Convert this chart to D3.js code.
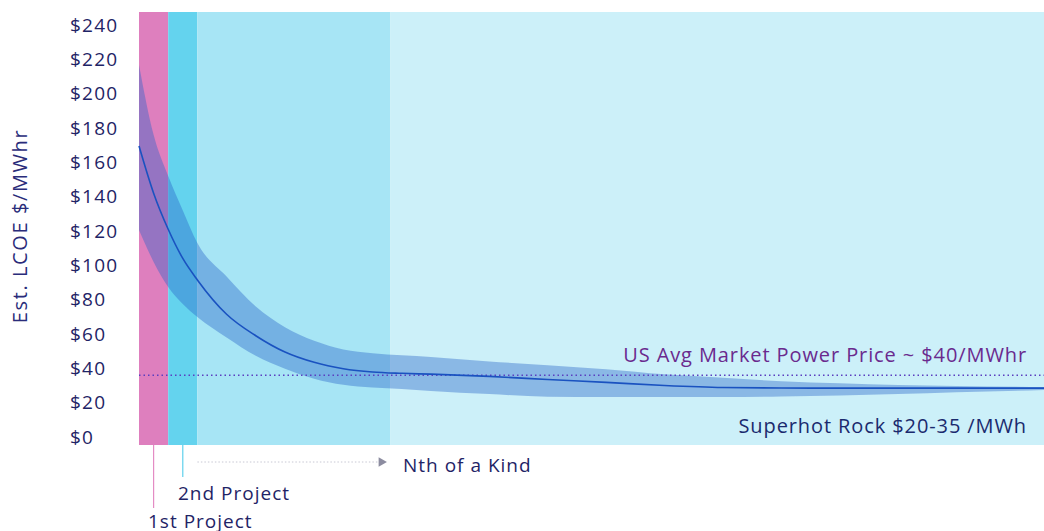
<!DOCTYPE html>
<html>
<head>
<meta charset="utf-8">
<script src="https://cdn.jsdelivr.net/npm/d3@7"></script>
<style>
  body { margin: 0; background: #fff; }
  svg text { font-family: "Open Sans", Lato, sans-serif; }
</style>
</head>
<body>
<div id="chart"></div>
<script>
// Project number along the x axis (no ticks shown)
const projects = [0, 0.5, 1, 1.5, 2, 3, 4, 5, 6, 7, 8, 9, 10, 12, 14, 16, 18, 20, 22, 24, 26, 28, 31];
// Estimated LCOE, $/MWhr
const lcoeMid   = [169.5, 142, 121, 104, 91.5, 71.5, 59, 49.5, 43.5, 39.8, 37.9, 37.1, 36.6, 35.3, 33.5, 31.8, 30.0, 28.8, 28.5, 28.5, 28.5, 28.5, 28.5];
const lcoeHigh  = [216.7, 176, 152, 132, 113, 93.5, 76, 64, 56, 51, 48.8, 47.6, 46.6, 44, 41.8, 39.5, 36.5, 34.5, 32.5, 31.3, 30.3, 29.7, 29.1];
const lcoeLow   = [120.6, 102, 87.4, 77.5, 69.9, 58, 47.3, 39.8, 34, 30.4, 28.8, 27.9, 26.8, 25, 23.5, 23.3, 23.3, 23.3, 23.6, 24.2, 25, 26, 27.4];

// Stage bands (project number ranges)
const stageEdges = [0, 1, 2, 8.6, 31];
const stageColors = ["#de7fbe", "#64d3ee", "#a7e5f5", "#ccf0f9"];

const yTicks = [0, 20, 40, 60, 80, 100, 120, 140, 160, 180, 200, 220, 240];
const marketPrice = 36;

const W = 1044, H = 531;
const plotTop = 12, plotBottom = 445;

const svg = d3.select("#chart").append("svg")
    .attr("width", W)
    .attr("height", H);

const x = d3.scaleLinear().domain([0, 31]).range([139, 1044]);
const y = d3.scaleLinear().domain([0, 240]).range([437, 25]);

// background stage bands
svg.append("g")
   .selectAll("rect")
   .data(stageColors)
   .enter()
   .append("rect")
   .attr("x", (d, i) => x(stageEdges[i]))
   .attr("width", (d, i) => x(stageEdges[i + 1]) - x(stageEdges[i]))
   .attr("y", plotTop)
   .attr("height", plotBottom - plotTop)
   .attr("fill", d => d);

const data = projects.map((p, i) => ({p: p, mid: lcoeMid[i], hi: lcoeHigh[i], lo: lcoeLow[i]}));

// uncertainty band
svg.append("path")
   .datum(data)
   .attr("fill", "rgba(40,100,200,0.4)")
   .attr("d", d3.area()
       .x(d => x(d.p))
       .y0(d => y(d.lo))
       .y1(d => y(d.hi))
       .curve(d3.curveMonotoneX));

// market price dotted line
svg.append("line")
   .attr("x1", x(0))
   .attr("x2", x(31))
   .attr("y1", y(marketPrice))
   .attr("y2", y(marketPrice))
   .attr("stroke", "#5a3fc0")
   .attr("stroke-width", 1.5)
   .attr("stroke-dasharray", "1.5,3");

// central estimate
svg.append("path")
   .datum(data)
   .attr("fill", "none")
   .attr("stroke", "#1a52c0")
   .attr("stroke-width", 1.6)
   .attr("d", d3.line()
       .x(d => x(d.p))
       .y(d => y(d.mid))
       .curve(d3.curveMonotoneX));

// Y axis labels
const yAxis = svg.append("g")
   .attr("transform", "translate(70,0)")
   .call(d3.axisLeft(y).tickValues(yTicks).tickSize(0).tickFormat(d => "$" + d));
yAxis.select(".domain").remove();
yAxis.selectAll("text")
   .attr("x", 0)
   .attr("text-anchor", "start")
   .attr("fill", "#1f2466")
   .style("font-size", "19px")
   .style("letter-spacing", "1.2px");

// Y axis title
svg.append("text")
   .attr("transform", "translate(27,226) rotate(-90)")
   .attr("text-anchor", "middle")
   .attr("fill", "#2a2c7a")
   .style("font-size", "20px")
   .style("letter-spacing", "1.6px")
   .text("Est. LCOE $/MWhr");

// right-side annotations
svg.append("text")
   .attr("x", 1027)
   .attr("y", 362)
   .attr("text-anchor", "end")
   .attr("fill", "#6a2a8e")
   .style("font-size", "20px")
   .style("letter-spacing", "0.9px")
   .text("US Avg Market Power Price ~ $40/MWhr");

svg.append("text")
   .attr("x", 1027)
   .attr("y", 433)
   .attr("text-anchor", "end")
   .attr("fill", "#1a2a6e")
   .style("font-size", "20px")
   .style("letter-spacing", "0.9px")
   .text("Superhot Rock $20-35 /MWh");

// bottom stage labels
svg.append("line")
   .attr("x1", x(0.5)).attr("x2", x(0.5))
   .attr("y1", plotBottom).attr("y2", 508)
   .attr("stroke", "#e48cc4").attr("stroke-width", 1.2);
svg.append("line")
   .attr("x1", x(1.5)).attr("x2", x(1.5))
   .attr("y1", plotBottom).attr("y2", 477)
   .attr("stroke", "#5fd0ec").attr("stroke-width", 1.2);

svg.append("line")
   .attr("x1", x(2)).attr("x2", x(8.2))
   .attr("y1", 462).attr("y2", 462)
   .attr("stroke", "#c8c8d4").attr("stroke-width", 1)
   .attr("stroke-dasharray", "1.5,2");
svg.append("path")
   .attr("d", d3.symbol().type(d3.symbolTriangle).size(40)())
   .attr("transform", `translate(${x(8.2) + 3},462) rotate(90)`)
   .attr("fill", "#8c8ca0");

const labelColor = "#1f2466";
svg.append("text").attr("x", 148).attr("y", 528).attr("fill", labelColor)
   .style("font-size", "19px").style("letter-spacing", "1px").text("1st Project");
svg.append("text").attr("x", 178).attr("y", 500).attr("fill", labelColor)
   .style("font-size", "19px").style("letter-spacing", "1px").text("2nd Project");
svg.append("text").attr("x", 403).attr("y", 472).attr("fill", labelColor)
   .style("font-size", "19px").style("letter-spacing", "1px").text("Nth of a Kind");
</script>
</body>
</html>
